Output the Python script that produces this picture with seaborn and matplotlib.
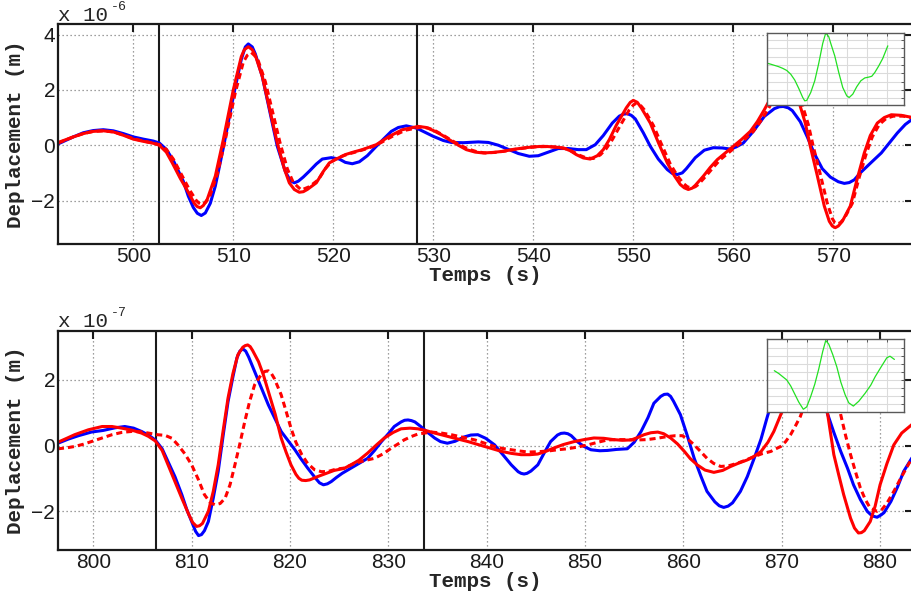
import matplotlib
matplotlib.use("Agg")
import numpy as np
import pandas as pd
import seaborn as sns
import matplotlib.pyplot as plt

# ---------------- data (displacement in units of 1e-6 m (top) / 1e-7 m (bottom)) -------------
top_blue_t = [492.5, 494, 495, 496, 497, 498, 499, 500, 501, 502, 502.6, 503.3, 504, 505, 505.5, 506.0, 506.4, 506.8, 507.2, 507.7, 508.2, 509, 510, 510.8, 511.2, 511.5, 511.9, 512.2, 512.9, 513.6, 514.4, 515.2, 515.7, 516.1, 516.5, 517.0, 517.6, 518.3, 518.9, 519.8, 520.6, 521.2, 521.9, 522.6, 523.4, 524.3, 525.1, 525.8, 526.5, 527.3, 528.3, 529.1, 530, 531, 531.8, 533, 534.5, 535.5, 536.5, 537.5, 538.5, 539.6, 540.5, 541.5, 542.5, 543.5, 544.5, 545.3, 546.2, 547, 547.9, 548.6, 549.0, 549.4, 549.8, 550.2, 551, 551.7, 552.5, 553.4, 553.9, 554.4, 554.9, 555.3, 556.2, 557.1, 558, 558.9, 559.7, 560.3, 561, 562, 563.1, 564.1, 564.6, 565.0, 565.5, 565.9, 566.7, 567.4, 568.1, 568.9, 569.7, 570.5, 571.1, 571.6, 572.1, 572.7, 573.8, 574.8, 575.6, 576.4, 577.2, 578.2]
top_blue_v = [0.05, 0.3, 0.45, 0.53, 0.56, 0.52, 0.42, 0.3, 0.22, 0.15, 0.08, -0.15, -0.55, -1.3, -1.84, -2.25, -2.46, -2.54, -2.45, -2.1, -1.48, -0.1, 1.76, 3.1, 3.55, 3.66, 3.55, 3.3, 2.48, 1.3, -0.04, -0.95, -1.28, -1.36, -1.3, -1.15, -0.94, -0.68, -0.5, -0.45, -0.5, -0.62, -0.67, -0.6, -0.38, -0.04, 0.25, 0.5, 0.64, 0.7, 0.62, 0.48, 0.32, 0.17, 0.1, 0.09, 0.12, 0.1, 0.0, -0.15, -0.3, -0.4, -0.38, -0.25, -0.12, -0.12, -0.16, -0.16, 0.02, 0.35, 0.8, 1.05, 1.12, 1.14, 1.08, 0.95, 0.45, -0.04, -0.5, -0.88, -1.02, -1.06, -1.0, -0.85, -0.45, -0.18, -0.09, -0.1, -0.14, -0.06, 0.08, 0.5, 1.04, 1.32, 1.39, 1.4, 1.35, 1.25, 0.85, 0.3, -0.3, -0.85, -1.15, -1.32, -1.38, -1.35, -1.25, -1.0, -0.62, -0.28, 0.08, 0.44, 0.75, 1.02]

top_red_t = [492.5, 494, 495, 496, 497, 498, 499, 500, 501, 502, 502.6, 503.3, 503.9, 504.7, 505.5, 506.1, 506.4, 506.7, 507.0, 507.4, 508.2, 509, 510, 510.8, 511.1, 511.5, 511.9, 512.2, 512.9, 513.7, 514.4, 515.1, 515.6, 516.1, 516.6, 517.0, 517.4, 518.3, 519, 519.6, 520.3, 521.2, 522, 522.9, 523.6, 524.3, 525.6, 526.9, 528.5, 529.3, 530, 530.8, 531.6, 532.5, 533.3, 534.2, 535, 536, 537, 538, 539, 540, 541, 542, 543, 543.7, 544.3, 545, 545.7, 546.4, 547, 547.6, 548.3, 549.3, 549.7, 550, 550.4, 550.8, 551.7, 552.5, 553.4, 554.1, 554.7, 555.1, 555.5, 555.9, 556.2, 557, 557.7, 558.4, 559.2, 560, 560.8, 561.7, 562.4, 563.1, 563.8, 564.5, 565.2, 565.9, 566.6, 567.2, 567.7, 568.4, 569.1, 569.6, 569.9, 570.2, 570.5, 570.9, 571.7, 572.4, 573.1, 573.7, 574.4, 575.1, 575.8, 576.8, 578.2]
top_red_v = [0.1, 0.3, 0.42, 0.5, 0.52, 0.48, 0.36, 0.22, 0.14, 0.07, 0.0, -0.25, -0.64, -1.2, -1.7, -2.1, -2.22, -2.26, -2.18, -1.95, -1.12, 0.2, 2.0, 3.2, 3.45, 3.56, 3.45, 3.25, 2.48, 1.2, 0.08, -0.85, -1.36, -1.6, -1.7, -1.68, -1.6, -1.36, -0.95, -0.64, -0.5, -0.34, -0.25, -0.16, -0.07, 0.02, 0.32, 0.56, 0.68, 0.64, 0.53, 0.38, 0.2, 0.0, -0.16, -0.25, -0.28, -0.26, -0.22, -0.15, -0.1, -0.06, -0.04, -0.06, -0.1, -0.2, -0.34, -0.46, -0.5, -0.38, -0.16, 0.2, 0.72, 1.35, 1.55, 1.62, 1.55, 1.35, 0.8, 0.1, -0.64, -1.1, -1.42, -1.54, -1.6, -1.55, -1.45, -1.12, -0.8, -0.52, -0.28, -0.04, 0.2, 0.5, 0.85, 1.28, 1.75, 2.1, 2.2, 1.95, 1.52, 0.8, -0.04, -1.1, -2.2, -2.75, -2.92, -2.98, -2.92, -2.75, -2.2, -1.2, -0.28, 0.35, 0.8, 1.0, 1.1, 1.08, 0.98]

top_dash_t = [492.5, 494, 495, 496, 497, 498, 499, 500, 501, 502, 502.6, 503.3, 504, 504.8, 505.6, 506.3, 506.6, 506.9, 507.2, 507.6, 508.4, 509.2, 510.2, 511, 511.4, 511.8, 512.1, 512.5, 513.2, 514, 514.7, 515.4, 516, 516.8, 517.6, 518.5, 519.2, 519.8, 520.5, 521.4, 522.3, 523.2, 524, 524.8, 525.9, 527.2, 528.7, 529.5, 530.2, 531, 531.8, 532.7, 533.5, 534.4, 535.2, 536.2, 537.2, 538.2, 539.2, 540.2, 541.2, 542.2, 543.2, 544, 544.6, 545.3, 546, 546.7, 547.3, 547.9, 548.6, 549.6, 550.0, 550.3, 550.7, 551.1, 552, 552.8, 553.7, 554.4, 555, 555.4, 555.8, 556.2, 556.5, 557.3, 558, 558.7, 559.5, 560.3, 561.1, 562, 562.7, 563.4, 564.1, 564.8, 565.5, 566.2, 566.9, 567.5, 568, 568.7, 569.4, 569.9, 570.15, 570.4, 570.7, 571.1, 571.9, 572.6, 573.3, 573.9, 574.6, 575.3, 576, 577, 578.2]
top_dash_v = [0.08, 0.3, 0.42, 0.5, 0.52, 0.48, 0.37, 0.24, 0.15, 0.08, 0.02, -0.15, -0.5, -1.05, -1.6, -2.0, -2.1, -2.15, -2.08, -1.9, -1.05, 0.2, 1.9, 3.0, 3.25, 3.35, 3.25, 3.05, 2.3, 1.1, 0.05, -0.85, -1.35, -1.62, -1.5, -1.25, -0.85, -0.6, -0.45, -0.33, -0.24, -0.14, -0.04, 0.1, 0.32, 0.54, 0.65, 0.62, 0.52, 0.36, 0.18, 0.0, -0.14, -0.24, -0.28, -0.26, -0.21, -0.15, -0.1, -0.06, -0.05, -0.07, -0.12, -0.24, -0.36, -0.46, -0.48, -0.35, -0.12, 0.2, 0.65, 1.28, 1.45, 1.52, 1.45, 1.28, 0.72, 0.05, -0.68, -1.1, -1.38, -1.5, -1.55, -1.5, -1.42, -1.1, -0.8, -0.52, -0.28, -0.04, 0.2, 0.5, 0.85, 1.25, 1.7, 2.05, 2.15, 1.9, 1.45, 0.75, -0.05, -1.05, -2.1, -2.65, -2.8, -2.85, -2.8, -2.65, -2.1, -1.15, -0.3, 0.3, 0.75, 0.97, 1.05, 1.05, 0.97]

bot_blue_t = [796.4, 797.5, 798.5, 799.8, 801, 802.2, 803.2, 804.1, 804.9, 805.6, 806.3, 807, 807.6, 808.3, 809, 809.5, 810, 810.4, 810.7, 811.0, 811.3, 811.7, 812.2, 812.7, 813.2, 813.7, 814.2, 814.6, 814.9, 815.2, 815.5, 815.8, 816.4, 817.1, 817.8, 818.5, 819.1, 819.8, 820.5, 821.1, 821.8, 822.6, 823.0, 823.4, 823.8, 824.2, 824.7, 825.3, 826.2, 827, 827.9, 828.6, 829.3, 830, 830.6, 831.3, 831.65, 832, 832.35, 832.7, 833.3, 834, 834.7, 835.3, 836, 836.8, 837.7, 838.4, 839.1, 839.9, 840.8, 841.7, 842.5, 843.2, 843.5, 843.8, 844.1, 844.5, 845.2, 845.9, 846.5, 847.2, 847.55, 847.9, 848.25, 848.6, 849.2, 849.9, 850.6, 851.5, 852.3, 853.2, 854.3, 855, 855.7, 856.4, 857, 857.7, 858.05, 858.4, 858.7, 859, 859.7, 860.4, 861.1, 861.8, 862.4, 863.2, 863.65, 864.1, 864.55, 865, 865.8, 866.5, 867.2, 867.9, 868.5, 869.2, 870, 870.8, 871.5, 872.3, 873.1, 873.9, 874.6, 875.3, 876, 876.7, 877.3, 878, 878.7, 879.2, 879.7, 880.1, 880.4, 881.1, 881.8, 882.4, 883.4]
bot_blue_v = [0.07, 0.2, 0.3, 0.41, 0.46, 0.54, 0.58, 0.53, 0.43, 0.32, 0.17, -0.1, -0.49, -0.95, -1.5, -1.95, -2.32, -2.62, -2.75, -2.72, -2.6, -2.32, -1.6, -0.79, 0.3, 1.34, 2.1, 2.67, 2.88, 2.95, 2.88, 2.7, 2.26, 1.75, 1.24, 0.8, 0.43, 0.15, -0.13, -0.4, -0.69, -1.0, -1.14, -1.2, -1.17, -1.1, -0.98, -0.85, -0.69, -0.55, -0.39, -0.15, 0.12, 0.36, 0.58, 0.72, 0.77, 0.78, 0.76, 0.72, 0.58, 0.4, 0.23, 0.12, 0.07, 0.13, 0.26, 0.32, 0.33, 0.22, 0.02, -0.3, -0.59, -0.8, -0.85, -0.87, -0.85, -0.78, -0.59, -0.2, 0.12, 0.32, 0.37, 0.38, 0.36, 0.3, 0.12, -0.03, -0.13, -0.16, -0.15, -0.12, -0.1, 0.1, 0.43, 0.85, 1.29, 1.5, 1.56, 1.57, 1.5, 1.35, 0.94, 0.3, -0.39, -0.95, -1.4, -1.72, -1.84, -1.89, -1.85, -1.75, -1.4, -0.95, -0.39, 0.2, 0.84, 1.55, 2.3, 2.85, 3.1, 3.0, 2.5, 1.75, 1.02, 0.4, -0.18, -0.7, -1.2, -1.65, -2.01, -2.15, -2.19, -2.12, -2.05, -1.71, -1.25, -0.79, -0.3]

bot_red_t = [796.4, 797.3, 798.1, 799.5, 800.9, 801.9, 802.9, 803.9, 804.9, 805.6, 806.3, 807, 807.6, 808.3, 809, 809.7, 810.1, 810.5, 810.8, 811.1, 811.7, 812.2, 812.7, 813.2, 813.7, 814.2, 814.7, 815.2, 815.45, 815.7, 815.95, 816.2, 816.8, 817.3, 817.8, 818.5, 819.1, 819.6, 820.1, 820.6, 820.9, 821.2, 821.6, 822, 822.8, 823.6, 824.5, 825.5, 826.2, 827, 827.9, 828.8, 829.6, 830.5, 831.3, 832.2, 833, 833.9, 834.7, 835.5, 836.4, 837.3, 838.1, 839, 839.8, 840.6, 841.5, 842.5, 843.5, 844.4, 845.2, 846, 846.8, 847.8, 848.9, 849.9, 850.9, 851.9, 852.9, 853.8, 854.7, 855.4, 856, 856.7, 857.4, 858, 858.7, 859.4, 860.1, 860.7, 861.4, 862.2, 863.1, 864, 864.8, 865.6, 866.5, 867.2, 867.9, 868.6, 869.2, 869.9, 870.6, 871.4, 872.2, 872.9, 873.6, 874.3, 874.8, 875.3, 875.8, 876.3, 877, 877.4, 877.8, 878.1, 878.4, 879, 879.5, 880, 880.7, 881.4, 882.2, 883.4]
bot_red_v = [0.1, 0.22, 0.33, 0.48, 0.58, 0.58, 0.53, 0.47, 0.38, 0.28, 0.14, -0.15, -0.59, -1.1, -1.61, -2.1, -2.35, -2.47, -2.45, -2.38, -2.01, -1.4, -0.59, 0.45, 1.45, 2.2, 2.77, 3.0, 3.05, 3.07, 3.02, 2.9, 2.56, 2.15, 1.65, 0.95, 0.23, -0.2, -0.59, -0.88, -1.0, -1.06, -1.07, -1.05, -0.95, -0.86, -0.76, -0.7, -0.59, -0.45, -0.23, 0.02, 0.23, 0.4, 0.51, 0.53, 0.51, 0.45, 0.38, 0.32, 0.25, 0.18, 0.12, 0.04, -0.03, -0.1, -0.18, -0.24, -0.28, -0.28, -0.26, -0.18, -0.08, 0.03, 0.12, 0.18, 0.23, 0.22, 0.18, 0.16, 0.17, 0.25, 0.33, 0.39, 0.41, 0.36, 0.23, 0.05, -0.18, -0.4, -0.59, -0.75, -0.82, -0.76, -0.64, -0.54, -0.44, -0.33, -0.18, 0.1, 0.43, 0.94, 1.5, 2.2, 2.8, 3.1, 2.8, 1.7, 0.7, -0.28, -0.9, -1.5, -2.22, -2.52, -2.67, -2.66, -2.6, -2.32, -1.85, -1.2, -0.55, 0.02, 0.38, 0.68]

bot_dash_t = [796.4, 797.3, 798.1, 799, 799.8, 800.8, 801.9, 802.9, 803.9, 804.8, 805.6, 806.5, 807.3, 808, 808.6, 809.3, 810, 810.7, 811.3, 811.9, 812.4, 812.9, 813.4, 813.9, 814.4, 814.9, 815.4, 815.9, 816.4, 817.1, 817.45, 817.8, 818.1, 818.4, 819.1, 819.6, 820.1, 820.6, 821.2, 821.8, 822.5, 823.2, 823.9, 824.7, 825.5, 826.6, 827.6, 828.6, 829.5, 830.3, 831, 831.6, 832.3, 833, 834.4, 835.4, 836.4, 837.6, 838.8, 839.8, 840.8, 841.6, 842.5, 843.4, 844.2, 845.2, 846.2, 847.2, 848.2, 849.2, 850.3, 851.3, 852.3, 853.3, 854.3, 855.3, 856.3, 857.3, 858.3, 859.2, 859.9, 860.5, 861.1, 861.8, 862.4, 863.1, 863.8, 864.6, 865.5, 866.3, 867.2, 868, 868.9, 869.4, 869.9, 870.4, 870.9, 871.4, 871.9, 872.6, 873.4, 874.2, 874.9, 875.5, 876, 876.5, 877, 877.5, 878, 878.5, 879, 879.7, 880.2, 880.7, 881.4, 882.1, 883.4]
bot_dash_v = [-0.1, -0.07, -0.03, 0.04, 0.12, 0.22, 0.33, 0.4, 0.43, 0.42, 0.38, 0.33, 0.31, 0.22, 0.02, -0.25, -0.59, -1.05, -1.5, -1.75, -1.81, -1.77, -1.61, -1.2, -0.59, 0.05, 0.73, 1.35, 1.85, 2.18, 2.26, 2.28, 2.2, 2.05, 1.55, 1.05, 0.53, 0.1, -0.28, -0.55, -0.74, -0.8, -0.79, -0.72, -0.69, -0.54, -0.46, -0.39, -0.25, -0.08, 0.05, 0.17, 0.27, 0.35, 0.41, 0.38, 0.33, 0.25, 0.17, 0.07, -0.03, -0.09, -0.13, -0.17, -0.2, -0.19, -0.17, -0.13, -0.1, -0.05, 0.02, 0.1, 0.17, 0.18, 0.18, 0.17, 0.18, 0.22, 0.27, 0.3, 0.3, 0.18, 0.02, -0.2, -0.39, -0.55, -0.64, -0.62, -0.54, -0.45, -0.34, -0.25, -0.18, -0.1, -0.03, 0.12, 0.33, 0.6, 0.89, 1.5, 2.2, 2.6, 2.5, 1.8, 0.94, 0.3, -0.28, -0.8, -1.3, -1.65, -1.91, -2.01, -1.95, -1.76, -1.4, -1.0, -0.3]

top_marks = [502.6, 528.35]
bot_marks = [806.4, 833.6]

top_xticks = [500, 510, 520, 530, 540, 550, 560, 570]
top_yticks = [-2, 0, 2, 4]
bot_xticks = [800, 810, 820, 830, 840, 850, 860, 870, 880]
bot_yticks = [-2, 0, 2]

ins1_t = [0.25, 1, 2, 3, 4, 5, 6, 7, 8, 9, 9.5, 10, 11, 12, 13, 14, 14.75, 15.5, 16, 17, 18, 19, 20, 20.6, 21.5, 22.5, 23.5, 24.5, 25.5, 26.25, 27, 28, 29, 30.25]
ins1_v = [0.2, 0.1, -0.05, -0.2, -0.4, -0.65, -1.1, -1.8, -2.8, -3.9, -4.3, -4.25, -3.3, -1.9, 0.2, 2.6, 3.85, 3.4, 2.6, 1.1, -0.9, -2.7, -3.7, -3.9, -3.5, -2.6, -1.9, -1.55, -1.45, -1.35, -0.9, -0.1, 0.8, 2.3]
ins2_t = [1.9, 3, 4, 5, 6, 7, 8, 9.15, 10, 11, 12, 13, 14, 14.75, 15.5, 16.5, 17.5, 18.5, 19.6, 20.5, 21.65, 23, 24.6, 26, 27.1, 28.5, 30, 30.8, 31.9]
ins2_v = [0.2, -0.15, -0.55, -0.95, -1.7, -2.7, -3.7, -4.6, -4.3, -3.0, -1.5, 0.4, 2.6, 3.95, 3.5, 2.2, 0.7, -1.2, -2.8, -3.8, -4.2, -3.6, -2.6, -1.6, -0.55, 0.6, 1.8, 2.0, 1.6]

# ---------------- figure ----------------
sns.set_theme(style="white")
plt.rcParams['font.family'] = ['Liberation Sans', 'DejaVu Sans']

W, H = 912, 595
fig = plt.figure(figsize=(W / 100, H / 100), dpi=100)


def px_axes(l, t, r, b):
    return fig.add_axes([l / W, 1 - b / H, (r - l) / W, (b - t) / H])


BLUE = '#0000ff'
RED = '#ff0000'
LW = 2.2
MONO = 'Liberation Mono'


def main_panel(ax, series, marks, xlim, ylim, xt, yt):
    ax.set_facecolor('white')
    ax.set_axisbelow(True)
    ax.grid(True, color='0.5', linestyle=(0, (1, 2.2)), linewidth=0.9)
    for m in marks:
        ax.axvline(m, color='k', lw=1.5, zorder=1.5)
    for (t, v, col, ls) in series:
        df = pd.DataFrame({'t': t, 'v': v})
        sns.lineplot(data=df, x='t', y='v', ax=ax, color=col, lw=LW,
                     linestyle=ls, sort=False, estimator=None, zorder=2,
                     solid_joinstyle='round', solid_capstyle='round',
                     dash_joinstyle='round')
    ax.set_xlim(*xlim)
    ax.set_ylim(*ylim)
    ax.set_xticks(xt)
    ax.set_yticks(yt)
    ax.tick_params(direction='in', length=6, width=1.5, top=True, right=True,
                   labelsize=15, pad=2, colors='k')
    for s in ax.spines.values():
        s.set_color('k')
        s.set_linewidth(1.6)
    ax.set_ylabel('Deplacement (m)', family=MONO, weight='bold', fontsize=15)
    ax.set_xlabel('Temps (s)', family=MONO, weight='bold', fontsize=15)
    ax.yaxis.set_label_coords(-0.0386, 0.5)
    ax.xaxis.set_label_coords(0.5, -0.1)


ax1 = px_axes(58, 24, 913.5, 244)
main_panel(ax1,
           [(top_blue_t, top_blue_v, BLUE, '-'),
            (top_red_t, top_red_v, RED, '-'),
            (top_dash_t, top_dash_v, RED, (0, (2, 1.3)))],
           top_marks, (492.47, 578.02), (-3.57, 4.38), top_xticks, top_yticks)

ax2 = px_axes(58, 330.7, 913.5, 550)
main_panel(ax2,
           [(bot_blue_t, bot_blue_v, BLUE, '-'),
            (bot_red_t, bot_red_v, RED, '-'),
            (bot_dash_t, bot_dash_v, RED, (0, (2, 1.3)))],
           bot_marks, (796.41, 883.4), (-3.19, 3.505), bot_xticks, bot_yticks)

# scale factor labels
fig.text(58 / W, 1 - 21 / H, 'x 10', family=MONO, fontsize=15, va='baseline', ha='left')
fig.text(111 / W, 1 - 10.5 / H, '-6', family=MONO, fontsize=9.5, va='baseline', ha='left')
fig.text(58 / W, 1 - 327 / H, 'x 10', family=MONO, fontsize=15, va='baseline', ha='left')
fig.text(111 / W, 1 - 316 / H, '-7', family=MONO, fontsize=9.5, va='baseline', ha='left')


def inset(l, t, r, b, xs, ys, ylim):
    ins = px_axes(l, t, r, b)
    ins.set_zorder(5)
    ins.set_facecolor('white')
    df = pd.DataFrame({'t': xs, 'v': ys})
    sns.lineplot(data=df, x='t', y='v', ax=ins, color='#22e022', lw=0.9,
                 sort=False, estimator=None)
    ins.set_xlim(0, 34.3)
    ins.set_ylim(*ylim)
    ins.set_xticks(np.arange(0, 35, 5))
    ins.set_yticks(np.arange(-4, 4, 1))
    ins.grid(True, color='0.86', linestyle='-', linewidth=0.8)
    ins.tick_params(direction='in', length=2.5, width=0.7, colors='0.35',
                    labelbottom=False, labelleft=False, top=True, right=True)
    ins.set_xlabel('')
    ins.set_ylabel('')
    for s in ins.spines.values():
        s.set_color('0.35')
        s.set_linewidth(1.0)
    return ins


inset(766.7, 32.7, 904, 105, ins1_t, ins1_v, (-4.8, 3.88))
inset(766.7, 339.3, 904, 411.7, ins2_t, ins2_v, (-4.9, 4.1))

fig.savefig('out.png', dpi=100)
